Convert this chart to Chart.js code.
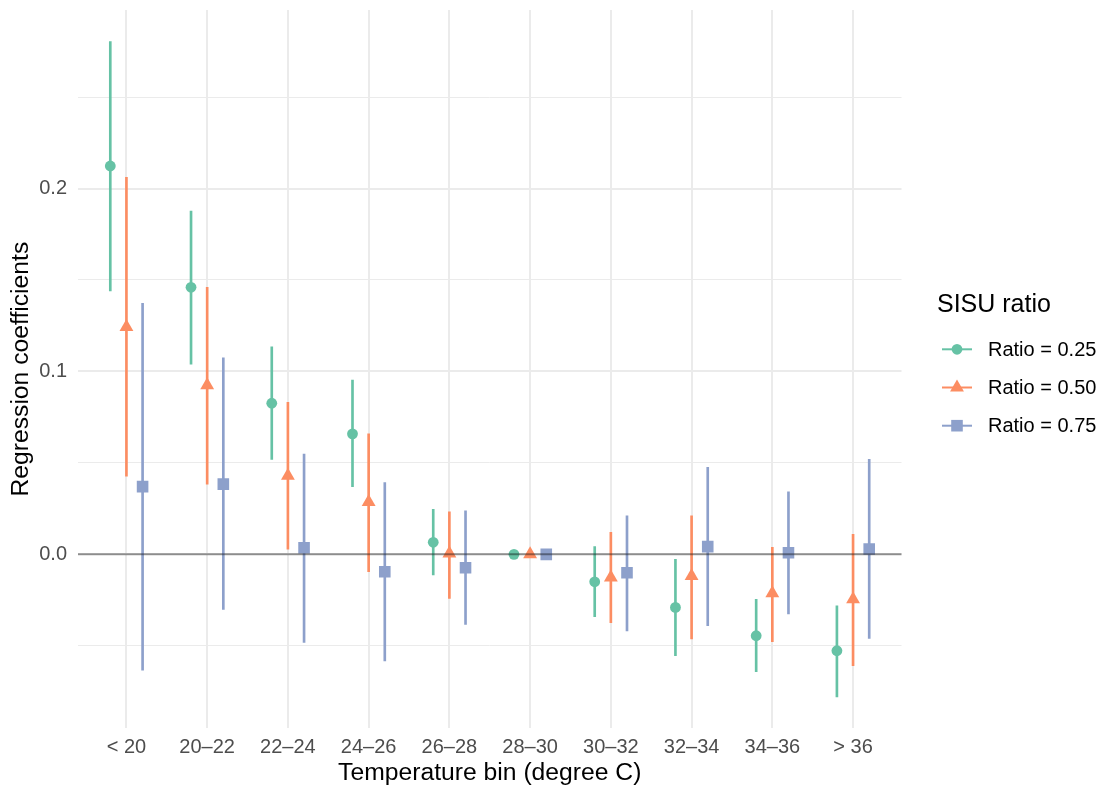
<!DOCTYPE html>
<html>
<head>
<meta charset="utf-8">
<script src="https://cdn.jsdelivr.net/npm/chart.js@4"></script>
<style>
  html, body { margin: 0; padding: 0; background: #fff; }
  #wrap { width: 1102px; height: 790px; }
</style>
</head>
<body>
<div id="wrap"><canvas id="c" width="1102" height="790"></canvas></div>
<script>
// ---- data ----
const categories = ['< 20', '20\u201322', '22\u201324', '24\u201326', '26\u201328', '28\u201330', '30\u201332', '32\u201334', '34\u201336', '> 36'];
const seriesNames = ['Ratio = 0.25', 'Ratio = 0.50', 'Ratio = 0.75'];

const est25 = [0.2123, 0.146, 0.0826, 0.0659, 0.0066, 0, -0.015, -0.029, -0.0445, -0.0527];
const lo25  = [0.1440, 0.104, 0.0519, 0.0370, -0.0113, 0, -0.0341, -0.0554, -0.0642, -0.0779];
const hi25  = [0.2803, 0.1877, 0.1135, 0.0953, 0.0246, 0, 0.0042, -0.0027, -0.0246, -0.0281];

const est50 = [0.1243, 0.0924, 0.0430, 0.0286, 0.0005, 0, -0.0126, -0.0119, -0.0213, -0.0246];
const lo50  = [0.0428, 0.0384, 0.0029, -0.0095, -0.0241, 0, -0.0374, -0.0463, -0.0478, -0.0609];
const hi50  = [0.2061, 0.1460, 0.0831, 0.0659, 0.0233, 0, 0.0120, 0.0211, 0.0038, 0.0109];

const est75 = [0.0370, 0.0384, 0.0036, -0.0095, -0.0073, 0, -0.0101, 0.0042, 0.0009, 0.0029];
const lo75  = [-0.0633, -0.0301, -0.0481, -0.0582, -0.0383, 0, -0.0418, -0.0390, -0.0326, -0.0459];
const hi75  = [0.1372, 0.1075, 0.0548, 0.0392, 0.0238, 0, 0.0211, 0.0476, 0.0342, 0.0519];

const yMajorTicks = [0, 0.1, 0.2];
const yMinorTicks = [-0.05, 0.05, 0.15, 0.25];

// ---- styling ----
const colors = ['#66C2A5', '#FC8D62', '#8DA0CB'];
const shapes = ['circle', 'triangle', 'rect'];
const radii = [5.4, 8, 8.2];
const dodge = [-0.2, 0, 0.2];
const FONT = "'Liberation Sans', Arial, Helvetica, sans-serif";
Chart.defaults.font.family = FONT;

const ests = [est25, est50, est75];
const los = [lo25, lo50, lo75];
const his = [hi25, hi50, hi75];

const datasets = [];
for (let s = 0; s < 3; s++) {
  datasets.push({
    type: 'scatter',
    label: seriesNames[s],
    order: 1,
    data: ests[s].map((v, i) => ({ x: i + 1 + dodge[s], y: v })),
    pointStyle: shapes[s],
    pointRadius: radii[s],
    pointHoverRadius: radii[s],
    pointBackgroundColor: colors[s],
    pointBorderWidth: 0,
    showLine: false
  });
}
for (let s = 0; s < 3; s++) {
  datasets.push({
    type: 'bar',
    label: seriesNames[s] + ' CI',
    order: 2,
    grouped: false,
    barThickness: 2,
    borderWidth: 0,
    backgroundColor: colors[s],
    data: los[s].map((lo, i) => ({ x: i + 1 + dodge[s], y: [lo, his[s][i]] }))
  });
}

const zeroLine = {
  id: 'zeroLine',
  afterDatasetsDraw(chart) {
    const { ctx, chartArea } = chart;
    const y = chart.scales.y.getPixelForValue(0);
    ctx.save();
    ctx.strokeStyle = 'rgba(0,0,0,0.4)';
    ctx.lineWidth = 2;
    ctx.beginPath();
    ctx.moveTo(chartArea.left, y);
    ctx.lineTo(chartArea.right, y);
    ctx.stroke();
    ctx.restore();
  }
};

const ggLegend = {
  id: 'ggLegend',
  afterDraw(chart) {
    const ctx = chart.ctx;
    ctx.save();
    ctx.fillStyle = '#000';
    ctx.textAlign = 'left';
    ctx.textBaseline = 'middle';
    ctx.font = '25px ' + FONT;
    ctx.fillText('SISU ratio', 937, 305);
    for (let s = 0; s < 3; s++) {
      const y = 349.3 + s * 38.2;
      ctx.strokeStyle = colors[s];
      ctx.lineWidth = 2;
      ctx.beginPath();
      ctx.moveTo(942, y);
      ctx.lineTo(972, y);
      ctx.stroke();
      ctx.fillStyle = colors[s];
      Chart.helpers.drawPoint(ctx, { pointStyle: shapes[s], radius: radii[s], rotation: 0, borderWidth: 0 }, 957, y);
      ctx.fillStyle = '#000';
      ctx.font = '20px ' + FONT;
      ctx.fillText(seriesNames[s], 988, y + 1);
    }
    ctx.restore();
  }
};

function isMajor(v) {
  return yMajorTicks.some(t => Math.abs(t - v) < 1e-9);
}

new Chart(document.getElementById('c'), {
  type: 'scatter',
  data: { datasets },
  options: {
    responsive: false,
    animation: false,
    devicePixelRatio: 1,
    layout: { padding: { top: 10, right: 200.5, left: 0, bottom: 0 } },
    plugins: { legend: { display: false }, tooltip: { enabled: false } },
    scales: {
      x: {
        type: 'linear',
        min: 0.4,
        max: 10.6,
        offset: false,
        afterBuildTicks(scale) { scale.ticks = categories.map((c, i) => ({ value: i + 1 })); },
        afterFit(scale) { scale.height = 61.7; scale.paddingLeft = 0; scale.paddingRight = 0; },
        ticks: {
          autoSkip: false,
          maxRotation: 0,
          color: '#4D4D4D',
          font: { size: 20 },
          padding: 7,
          callback: (v) => categories[Math.round(v) - 1]
        },
        grid: { color: '#EBEBEB', lineWidth: 2, drawTicks: false, offset: false },
        border: { display: false },
        title: { display: true, text: 'Temperature bin (degree C)', color: '#000', font: { size: 24.7 }, padding: { top: 0, bottom: 2 } }
      },
      y: {
        type: 'linear',
        min: -0.0951,
        max: 0.2976,
        afterBuildTicks(scale) {
          scale.ticks = yMajorTicks.concat(yMinorTicks).sort((a, b) => a - b).map(v => ({ value: v }));
        },
        afterFit(scale) { scale.width = 78; scale.paddingTop = 0; scale.paddingBottom = 0; },
        ticks: {
          color: '#4D4D4D',
          font: { size: 20 },
          padding: 11,
          callback: (v) => isMajor(v) ? v.toFixed(1) : ''
        },
        grid: {
          color: '#EBEBEB',
          drawTicks: false,
          lineWidth: (ctx) => (ctx.tick && isMajor(ctx.tick.value)) ? 2 : 1
        },
        border: { display: false },
        title: { display: true, text: 'Regression coefficients', color: '#000', font: { size: 24.7 }, padding: { top: 6, bottom: 0 } }
      }
    }
  },
  plugins: [zeroLine, ggLegend]
});
</script>
</body>
</html>
